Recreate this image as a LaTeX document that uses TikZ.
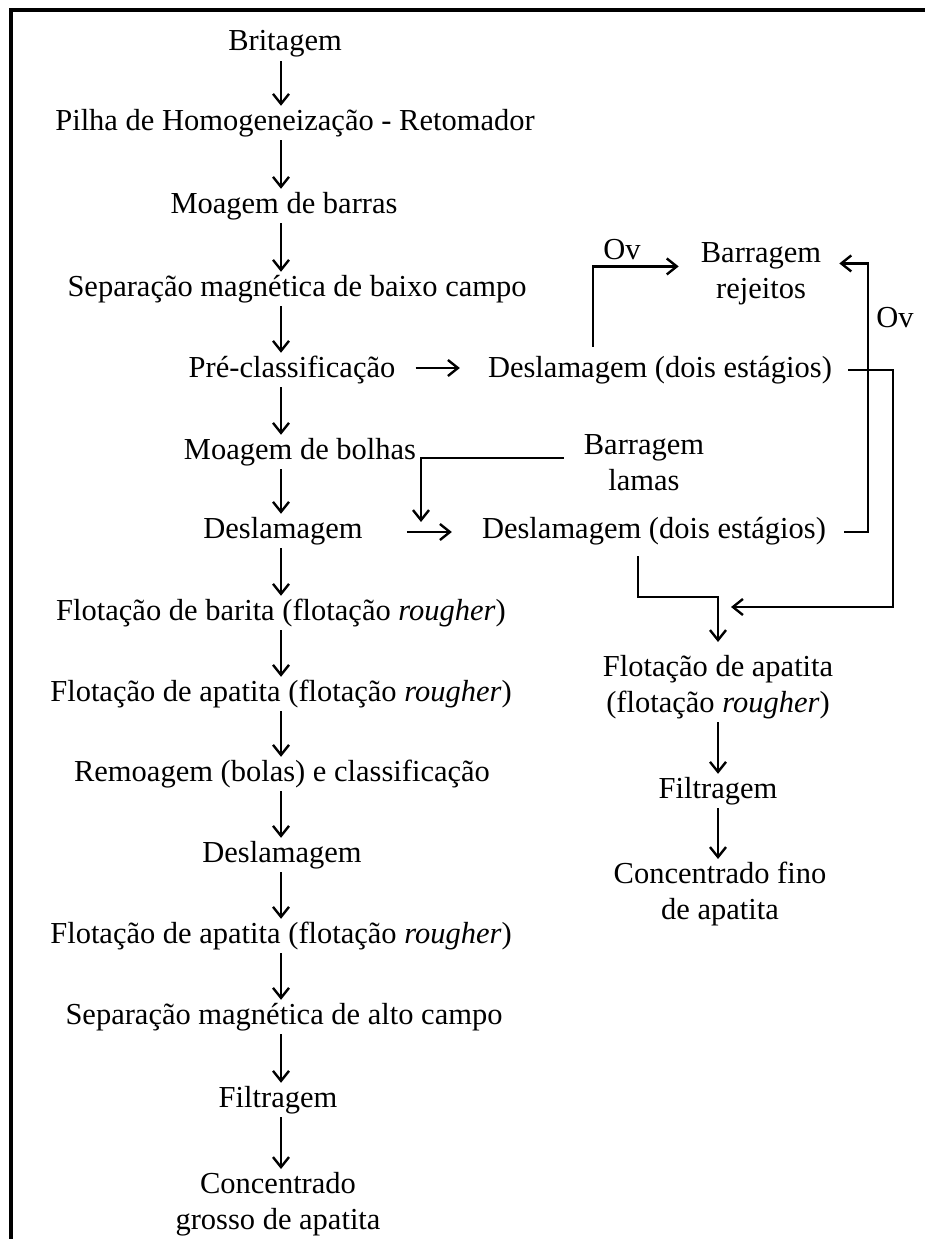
\documentclass[tikz,border=0pt]{standalone}
\usepackage{fontspec}
\setmainfont{Liberation Serif}
\usetikzlibrary{arrows.meta}
\begin{document}
\begin{tikzpicture}[x=1pt,y=-1pt,
  every node/.style={font=\fontsize{30.5}{36}\selectfont},
  lbl/.style={inner xsep=0pt, inner ysep=3pt, text height=21pt, text depth=7pt, anchor=base},
  ml/.style={align=center, inner sep=3pt, anchor=north},
  flow/.style={line width=2.6pt, -{Straight Barb[length=10pt,width=16pt,line width=2.4pt]}},
  ln/.style={line width=2.6pt}]
\useasboundingbox (0,0) rectangle (925,1239);
\draw[line width=3.2pt] (11,1239) -- (11,10) -- (925,10);
% axis for left column arrows
\coordinate (ax) at (281,0);
% left column
\node[lbl] (n1) at (285,51) {Britagem};
\node[lbl] (n2) at (295,130) {Pilha de Homogeneização - Retomador};
\node[lbl] (n3) at (284,213) {Moagem de barras};
\node[lbl] (n4) at (297,296) {Separação magnética de baixo campo};
\node[lbl] (n5) at (292,377) {Pré-classificação};
\node[lbl] (n6) at (300,459) {Moagem de bolhas};
\node[lbl] (n7) at (283,538) {Deslamagem};
\node[lbl] (n8) at (281,620) {Flotação de barita (flotação \textit{rougher})};
\node[lbl] (n9) at (281,701) {Flotação de apatita (flotação \textit{rougher})};
\node[lbl] (n10) at (282,781) {Remoagem (bolas) e classificação};
\node[lbl] (n11) at (282,862) {Deslamagem};
\node[lbl] (n12) at (281,943) {Flotação de apatita (flotação \textit{rougher})};
\node[lbl] (n13) at (284,1024) {Separação magnética de alto campo};
\node[lbl] (n14) at (278,1107) {Filtragem};
\node[ml] (n15) at (278,1169) {Concentrado\\grosso de apatita};
\foreach \a/\b in {n1/n2,n2/n3,n3/n4,n4/n5,n5/n6,n6/n7,n7/n8,n8/n9,n9/n10,n10/n11,n11/n12,n12/n13,n13/n14,n14/n15}
  \draw[flow] (\a.south -| ax) -- (\b.north -| ax);
% right side
\node[lbl] (d1) at (660,377) {Deslamagem (dois estágios)};
\node[lbl] (d2) at (654,538) {Deslamagem (dois estágios)};
\node[ml] (rej) at (761,239) {Barragem\\rejeitos};
\node[ml] (lam) at (644,431) {Barragem\\lamas};
\node[ml] (flr) at (718,652) {Flotação de apatita\\(flotação \textit{rougher})};
\node[lbl] (filr) at (718,798) {Filtragem};
\node[ml] (conr) at (720,859) {Concentrado fino\\de apatita};
\node[lbl] (ov1) at (622,259) {Ov};
\node[lbl] (ov2) at (895,327) {Ov};
% corner coordinates
\coordinate (k1) at (868,532);
\coordinate (k2) at (893,370);
\coordinate (k3) at (638,597);
\coordinate (k4) at (718,597);
\coordinate (jn) at (718,607);
\coordinate (lamIn) at (421,522);
\coordinate (ovx) at (593,0);
% horizontal arrows
\draw[flow] ([xshift=20pt,yshift=9pt]n5.base east) -- ([xshift=-28pt,yshift=9pt]d1.base west);
\draw[flow] ([xshift=44pt,yshift=6pt]n7.base east) -- ([xshift=-30pt,yshift=6pt]d2.base west);
% Barragem lamas to the left
\draw[flow] ([xshift=-17pt,yshift=-27pt]lam.north west) -| (lamIn);
% Ov top
\draw[flow] ([yshift=6pt]d1.north -| ovx) |- ([xshift=-19pt,yshift=7pt]rej.west);
% second deslamagem overflow up to rejeitos
\draw[flow] ([xshift=18pt]d2.east |- k1) -- (k1) |- ([xshift=15pt,yshift=10pt]rej.east);
% first deslamagem underflow down to flotation
\draw[flow] ([xshift=16pt]d1.east |- k2) -- (k2) |- ([xshift=13pt]jn);
% second deslamagem underflow
\draw[flow] ([yshift=-8pt]d2.south -| k3) -- (k3) -- (k4) -- ([yshift=10pt]flr.north -| k4);
\draw[flow] (flr.south -| k4) -- (filr.north -| k4);
\draw[flow] (filr.south -| k4) -- (conr.north -| k4);
\end{tikzpicture}
\end{document}
